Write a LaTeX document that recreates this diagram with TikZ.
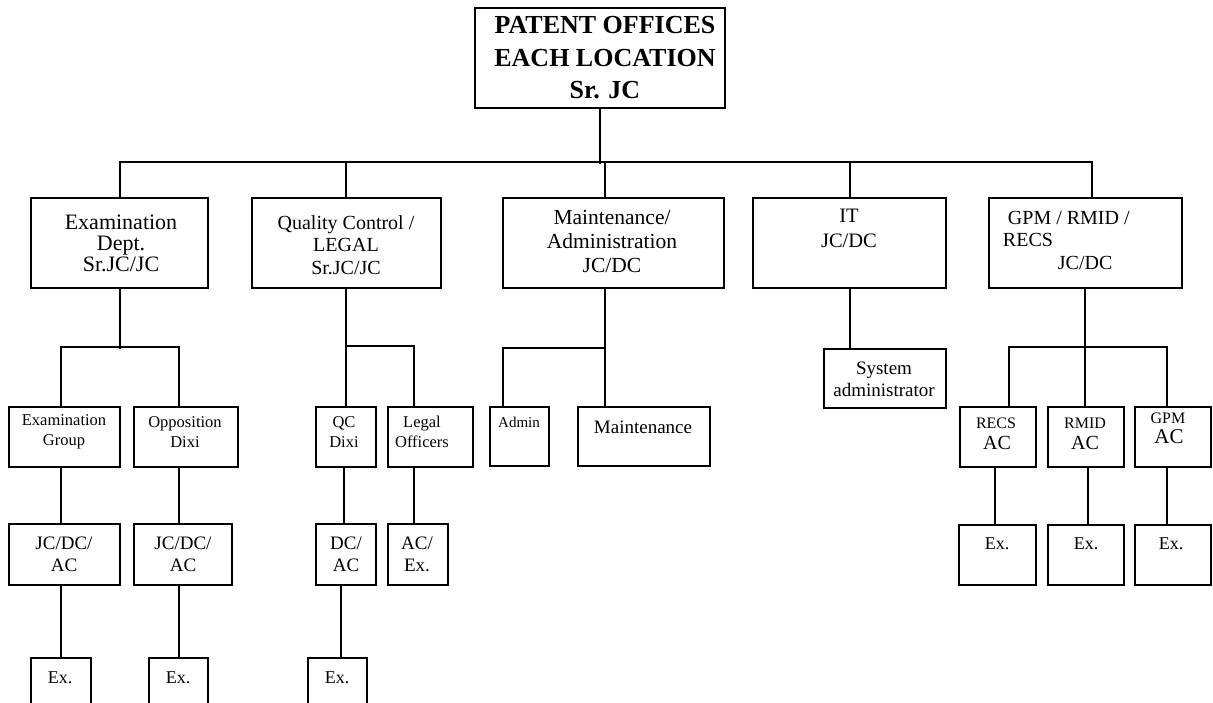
\documentclass[tikz,border=0pt]{standalone}
\usepackage{fontspec}
\setmainfont{Liberation Serif}
\newcommand\rbox[5]{\node[bx,minimum width={#4-#2},minimum height={#5-#3}] (#1) at ({(#2+#4)/2},{(#3+#5)/2}) {};}
\newcommand\fs[2]{\fontsize{#1}{#2}\selectfont}
\begin{document}
\begin{tikzpicture}[x=1pt,y=-1pt,line width=1.9pt,
  bx/.style={draw,line width=1.9pt,inner sep=0pt,fill=none},
  tx/.style={align=center,inner sep=0pt}]
\fill[white] (0,0) rectangle (1213,702);
\useasboundingbox (0,0) rectangle (1213,702);
% boxes
\rbox{top}{475}{8}{725}{108}
\rbox{exam}{31}{198}{208}{288}
\rbox{qc}{252}{198}{441}{288}
\rbox{maint}{503}{198}{724}{288}
\rbox{it}{753}{198}{946}{288}
\rbox{gpm}{989}{198}{1182}{288}
\rbox{egrp}{9}{407}{120}{467}
\rbox{opp}{134}{407}{238}{467}
\rbox{qcd}{316}{407}{376}{467}
\rbox{legal}{388}{407}{473}{467}
\rbox{admin}{490}{407}{549}{466}
\rbox{mbox}{578}{407}{710}{466}
\rbox{sysad}{824}{349}{946}{408}
\rbox{recs}{960}{407}{1036}{467}
\rbox{rmid}{1048}{407}{1124}{467}
\rbox{gpmac}{1135}{407}{1211}{467}
\rbox{jc1}{9}{524}{120}{585}
\rbox{jc2}{134}{524}{232}{585}
\rbox{dcac}{316}{524}{376}{585}
\rbox{acex}{388}{524}{448}{585}
\rbox{ex1}{31}{658}{91}{706}
\rbox{ex2}{149}{658}{208}{706}
\rbox{ex3}{308}{658}{367}{706}
\rbox{ex4}{959}{525}{1036}{585}
\rbox{ex5}{1048}{525}{1124}{585}
\rbox{ex6}{1135}{525}{1211}{585}
% texts
\node[tx,font=\fs{26}{32.5}\bfseries] at (605,58) {PATENT OFFICES\\EACH LOCATION\\Sr. JC};
\node[tx,font=\fs{22}{21}] at (121,243) {Examination\\Dept.\\Sr.JC/JC};
\node[tx,font=\fs{20}{22.5}] at (346,245) {Quality Control /\\LEGAL\\Sr.JC/JC};
\node[tx,font=\fs{21.5}{24}] at (612,241) {Maintenance/\\Administration\\JC/DC};
\node[tx,font=\fs{20.5}{25}] at (849,228) {IT\\JC/DC};
\node[tx,font=\fs{20}{22.5},align=left,anchor=west] at (1002,240) {\hspace*{5pt}GPM / RMID /\\RECS\\\hspace*{55pt}JC/DC};
\node[tx,font=\fs{16.5}{20}] at (64,432) {Examination\\Group};
\node[tx,font=\fs{16.5}{20}] at (185,432) {Opposition\\Dixi};
\node[tx,font=\fs{16.5}{20}] at (344,432) {QC\\Dixi};
\node[tx,font=\fs{16.5}{20}] at (422,432) {Legal\\Officers};
\node[tx,font=\fs{15}{16}] at (519,422) {Admin};
\node[tx,font=\fs{19}{20}] at (643,427) {Maintenance};
\node[tx,font=\fs{19}{22}] at (884,379) {System\\administrator};
\node[tx,font=\fs{16}{16}] at (996,423) {RECS};
\node[tx,font=\fs{20}{20}] at (997,443) {AC};
\node[tx,font=\fs{16}{16}] at (1085,423) {RMID};
\node[tx,font=\fs{20}{20}] at (1085,443) {AC};
\node[tx,font=\fs{16}{16}] at (1168,418) {GPM};
\node[tx,font=\fs{21}{20}] at (1169,437) {AC};
\node[tx,font=\fs{19}{22}] at (64,554) {JC/DC/\\AC};
\node[tx,font=\fs{19}{22}] at (183,554) {JC/DC/\\AC};
\node[tx,font=\fs{19}{22}] at (346,554) {DC/\\AC};
\node[tx,font=\fs{19}{22}] at (417,554) {AC/\\Ex.};
\node[tx,font=\fs{18}{22}] at (60,678) {Ex.};
\node[tx,font=\fs{18}{22}] at (178,678) {Ex.};
\node[tx,font=\fs{18}{22}] at (337,678) {Ex.};
\node[tx,font=\fs{18}{22}] at (997,544) {Ex.};
\node[tx,font=\fs{18}{22}] at (1086,544) {Ex.};
\node[tx,font=\fs{18}{22}] at (1171,544) {Ex.};
% connectors
\draw (top.south) -- ++(0,55);
\draw ([xshift=0.5pt]exam.north) -- ++(0,-35) -| ([xshift=6.5pt]gpm.north);
\draw ([xshift=-0.5pt]qc.north) -- ++(0,-35);
\draw ([xshift=-8.5pt]maint.north) -- ++(0,-35);
\draw ([xshift=0.5pt]it.north) -- ++(0,-35);
% exam subtree
\draw ([xshift=0.5pt]exam.south) -- ++(0,60);
\draw ([xshift=-3.5pt]egrp.north) -- ++(0,-59) -| ([xshift=-7pt]opp.north);
\draw ([xshift=-3.5pt]egrp.south) -- ([xshift=-3.5pt]jc1.north);
\draw ([xshift=-7pt]opp.south) -- ([xshift=-4pt]jc2.north);
\draw ([xshift=-3.5pt]jc1.south) -- (ex1.north);
\draw ([xshift=-4pt]jc2.south) -- ([xshift=0.5pt]ex2.north);
% qc subtree
\draw ([xshift=-0.5pt]qc.south) -- (qcd.north);
\draw ([xshift=-16.5pt]legal.north) -- ++(0,-60) -| ([xshift=-0.5pt]qc.south);
\draw ([xshift=-2pt]qcd.south) -- ([xshift=-2pt]dcac.north);
\draw ([xshift=-16.5pt]legal.south) -- ([xshift=-4pt]acex.north);
\draw ([xshift=-5pt]dcac.south) -- ([xshift=3.5pt]ex3.north);
% maintenance subtree
\draw ([xshift=-8.5pt]maint.south) -- ([xshift=-39pt]mbox.north);
\draw ([xshift=-16.5pt]admin.north) -- ++(0,-58) -| ([xshift=-8.5pt]maint.south);
% it subtree
\draw ([xshift=0.5pt]it.south) -- ([xshift=-35pt]sysad.north);
% gpm subtree
\draw ([xshift=-0.5pt]gpm.south) -- ([xshift=-1pt]rmid.north);
\draw ([xshift=11pt]recs.north) -- ++(0,-59) -| ([xshift=-6pt]gpmac.north);
\draw ([xshift=-3pt]recs.south) -- ([xshift=-2.5pt]ex4.north);
\draw ([xshift=2pt]rmid.south) -- ([xshift=2pt]ex5.north);
\draw ([xshift=-6pt]gpmac.south) -- ([xshift=-6pt]ex6.north);
\end{tikzpicture}
\end{document}
